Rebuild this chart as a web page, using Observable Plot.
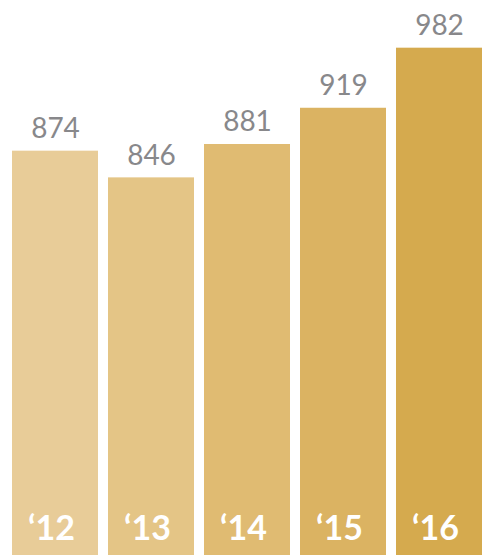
<!DOCTYPE html>
<html>
<head>
<meta charset="utf-8">
<script src="https://cdn.jsdelivr.net/npm/d3@7"></script>
<script src="https://cdn.jsdelivr.net/npm/@observablehq/plot@0.6"></script>
<style>
  html, body { margin: 0; padding: 0; background: #fff; overflow: hidden; }
  #chart svg { display: block; }
</style>
</head>
<body>
<div id="chart"></div>
<script>
const years = ["‘12", "‘13", "‘14", "‘15", "‘16"];
const values = [874, 846, 881, 919, 982];
const barColors = ["#E8CC98", "#E4C586", "#E0BB72", "#DBB362", "#D5AA4E"];

const baseline = 450;
const data = years.map((year, i) => ({year, value: values[i]}));

const chart = Plot.plot({
  width: 482,
  height: 555,
  marginTop: 0,
  marginBottom: 0,
  marginLeft: 0,
  marginRight: 0,
  style: {background: "#fff", overflow: "visible"},
  x: {domain: years, range: [10, 485], paddingInner: 10 / 97, paddingOuter: 0, axis: null},
  y: {domain: [baseline, 1032], range: [555, 0], axis: null},
  color: {domain: years, range: barColors},
  marks: [
    Plot.barY(data, {x: "year", y1: baseline, y2: "value", fill: "year"}),
    Plot.text(data, {
      x: "year", y: "value", text: d => String(d.value),
      lineAnchor: "bottom", dy: -13, fill: "#88888B",
      fontSize: 28, fontFamily: "Lato, 'Open Sans', sans-serif"
    }),
    Plot.text(data, {
      x: "year", y: () => baseline, text: "year",
      lineAnchor: "bottom", dy: -16, dx: -4, fill: "#fff",
      fontSize: 34, fontWeight: 700, fontFamily: "Lato, 'Open Sans', sans-serif"
    })
  ]
});
document.getElementById("chart").appendChild(chart);
</script>
</body>
</html>
